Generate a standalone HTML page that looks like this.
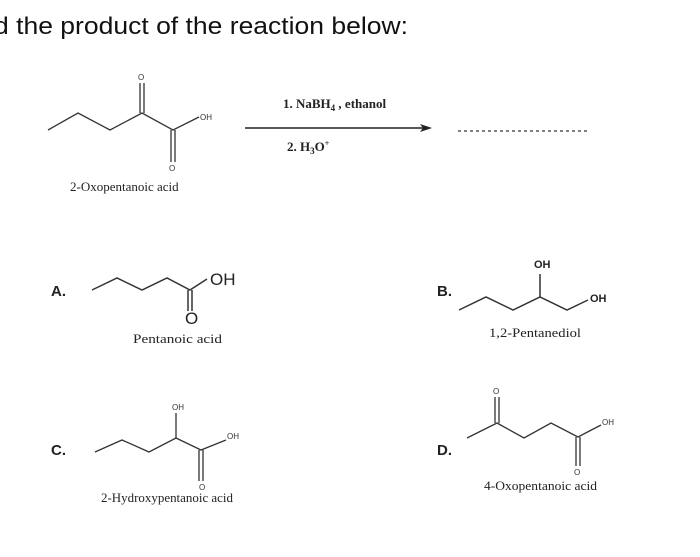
<!DOCTYPE html>
<html><head><meta charset="utf-8"><style>
html,body{margin:0;padding:0;background:#fff;width:700px;height:557px;overflow:hidden}
svg{display:block}
.s{font-family:"Liberation Sans",sans-serif}
.r{font-family:"Liberation Serif",serif}
</style></head><body>
<svg width="700" height="557" viewBox="0 0 700 557" xmlns="http://www.w3.org/2000/svg">
<text x="-6" y="34" class="s" font-size="24" textLength="414" lengthAdjust="spacingAndGlyphs" fill="#111">d the product of the reaction below:</text>
<g stroke="#333" stroke-width="1.3" fill="none">
<!-- top molecule -->
<polyline points="48,130 78,113 110,130 142,113 173,130 199,117"/>
<line x1="140" y1="113" x2="140" y2="83"/><line x1="144" y1="113" x2="144" y2="83"/>
<line x1="171" y1="130" x2="171" y2="162"/><line x1="175" y1="130" x2="175" y2="162"/>
<!-- arrow -->
<line x1="245" y1="128" x2="425" y2="128" stroke="#222" stroke-width="1.6"/>
<line x1="458" y1="131" x2="590" y2="131" stroke-dasharray="3,3"/>
<!-- A -->
<polyline points="92,290 117,278 142,290 167,278 190,290 207,279" stroke-width="1.5"/>
<line x1="188" y1="290" x2="188" y2="311" stroke-width="1.5"/><line x1="192" y1="290" x2="192" y2="311" stroke-width="1.5"/>
<!-- B -->
<polyline points="459,310 486,297 513,310 540,297 567,310 588,300" stroke-width="1.5"/>
<line x1="540" y1="297" x2="540" y2="274" stroke-width="1.5"/>
<!-- C -->
<polyline points="95,452 122,440 149,452 176,438 201,450 226,440"/>
<line x1="176" y1="438" x2="176" y2="413"/>
<line x1="199" y1="450" x2="199" y2="481"/><line x1="203" y1="450" x2="203" y2="481"/>
<!-- D -->
<polyline points="467,438 497,423 524,438 551,423 578,437 601,425"/>
<line x1="495" y1="423" x2="495" y2="397"/><line x1="499" y1="423" x2="499" y2="397"/>
<line x1="576" y1="437" x2="576" y2="466"/><line x1="580" y1="437" x2="580" y2="466"/>
</g>
<polygon points="432,128 420,124 423,128 420,132" fill="#222"/>
<g class="s" fill="#333" font-size="8">
<text x="138" y="80">O</text>
<text x="200" y="120">OH</text>
<text x="169" y="171">O</text>
<text x="172" y="410">OH</text>
<text x="227" y="439">OH</text>
<text x="199" y="490">O</text>
<text x="493" y="394">O</text>
<text x="602" y="425">OH</text>
<text x="574" y="475">O</text>
</g>
<g class="s" fill="#222" font-size="17">
<text x="210" y="285">OH</text>
<text x="185" y="324">O</text>
</g>
<g class="s" fill="#222" font-size="11" font-weight="bold">
<text x="534" y="268">OH</text>
<text x="590" y="302">OH</text>
</g>
<g class="r" fill="#222" font-size="13">
<text x="70" y="191">2-Oxopentanoic acid</text>
<text x="133" y="343" textLength="89" lengthAdjust="spacingAndGlyphs">Pentanoic acid</text>
<text x="489" y="337" textLength="92" lengthAdjust="spacingAndGlyphs">1,2-Pentanediol</text>
<text x="101" y="502" textLength="132" lengthAdjust="spacingAndGlyphs">2-Hydroxypentanoic acid</text>
<text x="484" y="490" textLength="113" lengthAdjust="spacingAndGlyphs">4-Oxopentanoic acid</text>
</g>
<g class="r" fill="#222" font-size="13" font-weight="bold">
<text x="283" y="108">1. NaBH<tspan font-size="9" dy="3">4</tspan><tspan dy="-3"> , ethanol</tspan></text>
<text x="287" y="151">2. H<tspan font-size="9" dy="3">3</tspan><tspan dy="-3">O</tspan><tspan font-size="8" dy="-5">+</tspan></text>
</g>
<g class="s" fill="#222" font-size="15" font-weight="bold">
<text x="51" y="296">A.</text>
<text x="437" y="296">B.</text>
<text x="51" y="455">C.</text>
<text x="437" y="455">D.</text>
</g>
</svg>
</body></html>
